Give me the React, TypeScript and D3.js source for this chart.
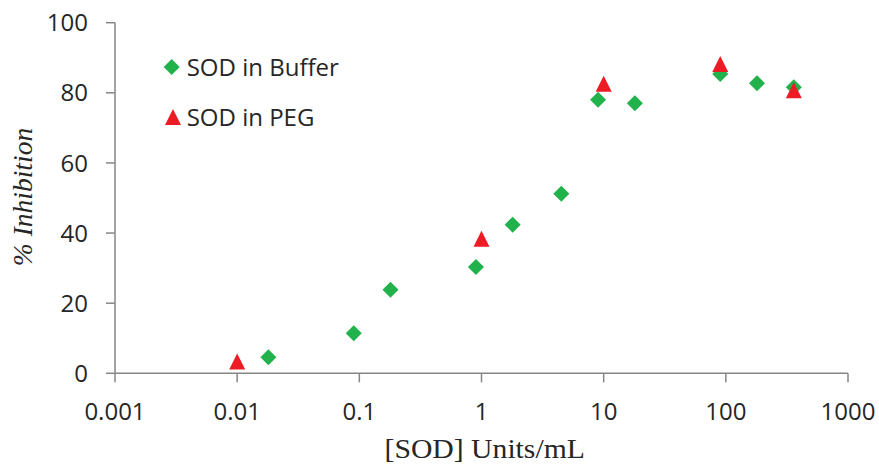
import React from "react";
import * as d3 from "d3";

const bufferX = [0.018, 0.09, 0.18, 0.9, 1.8, 4.5, 9, 18, 90, 180, 360];
const bufferY = [4.6, 11.4, 23.8, 30.3, 42.4, 51.2, 78.0, 77.0, 85.4, 82.7, 81.6];
const pegX = [0.01, 1, 10, 90, 360];
const pegY = [3.4, 38.4, 82.6, 88.2, 80.7];
const xTicks = [0.001, 0.01, 0.1, 1, 10, 100, 1000];
const xTickLabels = ["0.001", "0.01", "0.1", "1", "10", "100", "1000"];
const yTicks = [0, 20, 40, 60, 80, 100];
const seriesNames = ["SOD in Buffer", "SOD in PEG"];

const W = 879;
const H = 467;
const left = 115;
const right = 848;
const top = 22.7;
const bottom = 373.3;

const GREEN = "#21B24B";
const RED = "#ED1C24";
const AXIS = "#868686";
const TEXT = "#262626";

const tickFont = "'Open Sans', 'Noto Sans', sans-serif";
const serif = "'Liberation Serif', 'DejaVu Serif', serif";

export default function App() {
  const x = d3.scaleLog().domain([0.001, 1000]).range([left, right]);
  const y = d3.scaleLinear().domain([0, 100]).range([bottom, top]);
  const diamond = (cx: number, cy: number, r = 8) =>
    `M${cx},${cy - r}L${cx + r},${cy}L${cx},${cy + r}L${cx - r},${cy}Z`;
  const tri = (cx: number, cy: number, s = 16) =>
    `M${cx},${cy - s / 2}L${cx + s / 2},${cy + s / 2}L${cx - s / 2},${cy + s / 2}Z`;

  return (
    <svg
      width={W}
      height={H}
      style={{ position: "absolute", left: 0, top: 0, background: "#fff" }}
    >
      {/* axes */}
      <line x1={left} x2={left} y1={top} y2={bottom} stroke={AXIS} strokeWidth={1.5} />
      <line x1={left} x2={right} y1={bottom} y2={bottom} stroke={AXIS} strokeWidth={1.5} />
      {yTicks.map((t) => (
        <g key={"y" + t}>
          <line x1={left - 9} x2={left} y1={y(t)} y2={y(t)} stroke={AXIS} strokeWidth={1.5} />
          <text
            x={88}
            y={y(t)}
            dy="0.36em"
            textAnchor="end"
            fontFamily={tickFont}
            fontSize={24}
            fill={TEXT}
          >
            {t}
          </text>
        </g>
      ))}
      {xTicks.map((t, i) => (
        <g key={"x" + t}>
          <line x1={x(t)} x2={x(t)} y1={bottom} y2={bottom + 9} stroke={AXIS} strokeWidth={1.5} />
          <text
            x={x(t)}
            y={420}
            textAnchor="middle"
            fontFamily={tickFont}
            fontSize={24}
            fill={TEXT}
          >
            {xTickLabels[i]}
          </text>
        </g>
      ))}
      {/* titles */}
      <text
        transform="translate(484.7,458) scale(1.1,1)"
        textAnchor="middle"
        fontFamily={serif}
        fontSize={27}
        fill={TEXT}
      >
        [SOD] Units/mL
      </text>
      <text
        transform={`translate(32,197) rotate(-90)`}
        textAnchor="middle"
        fontFamily={serif}
        fontStyle="italic"
        fontSize={27.5}
        fill={TEXT}
      >
        % Inhibition
      </text>
      {/* data */}
      {bufferX.map((v, i) => (
        <path key={"b" + i} d={diamond(x(v), y(bufferY[i]))} fill={GREEN} />
      ))}
      {pegX.map((v, i) => (
        <path key={"p" + i} d={tri(x(v), y(pegY[i]))} fill={RED} />
      ))}
      {/* legend */}
      <path d={diamond(171.7, 67)} fill={GREEN} />
      <text x={186.7} y={67} dy="0.36em" fontFamily={tickFont} fontSize={24} fill={TEXT}>
        {seriesNames[0]}
      </text>
      <path d={tri(173, 117)} fill={RED} />
      <text x={186.7} y={117} dy="0.36em" fontFamily={tickFont} fontSize={24} fill={TEXT}>
        {seriesNames[1]}
      </text>
    </svg>
  );
}
